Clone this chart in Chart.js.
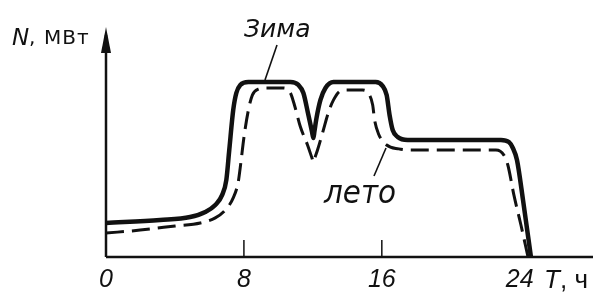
<!DOCTYPE html>
<html>
<head>
<meta charset="utf-8">
<script src="https://cdn.jsdelivr.net/npm/chart.js@4/dist/chart.umd.min.js"></script>
<style>
  html, body { margin: 0; padding: 0; background: #fff; }
  #c { display: block; }
</style>
</head>
<body>
<canvas id="c" width="599" height="294"></canvas>
<script>
// ---- data (time in hours, power in relative units) ----
const winterT = [0, 3.14, 4.88, 5.76, 6.34, 6.74, 6.98, 7.15, 7.38, 7.56, 7.79, 8.26, 10.70, 11.16, 11.45, 11.74, 11.95, 12.03, 12.09, 12.21, 12.44, 12.73, 13.20, 15.64, 16.05, 16.28, 16.45, 16.63, 16.92, 17.50, 22.91, 23.37, 23.60, 23.84, 24.19, 24.65];
const winterN = [14.8, 16.1, 17.4, 19.6, 22.6, 27.0, 33.5, 46.5, 63.9, 71.3, 74.8, 76.1, 76.1, 74.8, 71.3, 61.7, 54.5, 51.7, 54.6, 60.4, 68.3, 73.5, 76.1, 76.1, 74.3, 70.4, 61.7, 55.2, 52.2, 50.9, 50.9, 50.0, 47.4, 42.2, 24.8, 0];

const summerT = [0, 1.98, 4.01, 5.47, 6.34, 6.92, 7.38, 7.67, 7.79, 8.02, 8.26, 8.49, 8.84, 9.30, 10.29, 10.70, 10.93, 11.28, 11.69, 11.95, 12.03, 12.10, 12.27, 12.56, 12.91, 13.20, 13.60, 14.07, 14.88, 15.29, 15.47, 15.58, 15.81, 16.28, 16.98, 17.67, 22.62, 23.08, 23.31, 23.66, 24.07, 24.48];
const summerN = [10.4, 11.7, 13.5, 14.8, 17.0, 20.4, 25.7, 32.6, 39.1, 53.0, 63.9, 70.4, 73.0, 73.5, 73.5, 71.3, 66.1, 56.5, 48.7, 43.0, 41.3, 42.8, 46.5, 53.9, 63.0, 68.3, 72.2, 72.6, 72.6, 70.4, 66.1, 59.6, 53.5, 48.7, 47.0, 46.5, 46.5, 44.3, 40.0, 27.0, 13.9, 0];

const xTicks = [0, 8, 16, 24];
const tickMarks = [8, 16];
const seriesNames = ['Зима', 'лето'];
const yAxisTitle = ['N', ',', 'МВт'];
const xAxisTitle = ['T', ', ч'];

const toPts = (t, n) => t.map((v, i) => ({ x: v, y: n[i] }));

const INK = '#111';

const decor = {
  id: 'decor',
  afterDatasetsDraw(chart) {
    const ctx = chart.ctx;
    const a = chart.chartArea;
    const xs = chart.scales.x;
    ctx.save();
    ctx.strokeStyle = INK;
    ctx.fillStyle = INK;
    ctx.lineCap = 'butt';

    // axes
    ctx.lineWidth = 2.5;
    ctx.beginPath();
    ctx.moveTo(a.left, a.bottom);
    ctx.lineTo(a.right, a.bottom);
    ctx.stroke();
    ctx.beginPath();
    ctx.moveTo(a.left, a.bottom);
    ctx.lineTo(a.left, a.top + 8);
    ctx.stroke();
    // arrow head on y axis
    ctx.beginPath();
    ctx.moveTo(a.left, a.top);
    ctx.lineTo(a.left - 5, a.top + 26);
    ctx.lineTo(a.left + 5, a.top + 26);
    ctx.closePath();
    ctx.fill();

    // tick marks rising from the x axis
    ctx.lineWidth = 1.5;
    tickMarks.forEach(v => {
      const px = xs.getPixelForValue(v);
      ctx.beginPath();
      ctx.moveTo(px, a.bottom);
      ctx.lineTo(px, a.bottom - 17);
      ctx.stroke();
    });

    // y axis title
    ctx.textBaseline = 'alphabetic';
    ctx.textAlign = 'left';
    ctx.font = 'italic 23px "DejaVu Sans"';
    ctx.fillText(yAxisTitle[0], 12, 45);
    ctx.font = '20px "DejaVu Sans"';
    ctx.fillText(yAxisTitle[1], 29, 44);
    ctx.letterSpacing = '1px';
    ctx.fillText(yAxisTitle[2], 44, 44);
    ctx.letterSpacing = '0px';

    // x axis title
    ctx.font = 'italic 26px "Liberation Sans"';
    ctx.fillText(xAxisTitle[0], 544, 288);
    ctx.font = '26px "Liberation Sans"';
    ctx.fillText(xAxisTitle[1], 560, 288);

    // series labels
    ctx.font = 'italic 25px "DejaVu Sans"';
    ctx.fillText(seriesNames[0], 244, 37);
    ctx.font = 'italic 32px "DejaVu Sans"';
    const w = ctx.measureText(seriesNames[1]).width;
    ctx.save();
    ctx.translate(324, 203);
    ctx.scale(72 / w, 1);
    ctx.fillText(seriesNames[1], 0, 0);
    ctx.restore();

    // leader lines
    ctx.lineWidth = 1.6;
    ctx.beginPath();
    ctx.moveTo(277, 45);
    ctx.lineTo(265, 80);
    ctx.stroke();
    ctx.beginPath();
    ctx.moveTo(374, 176);
    ctx.lineTo(386, 148);
    ctx.stroke();

    ctx.restore();
  }
};

new Chart(document.getElementById('c'), {
  type: 'line',
  data: {
    datasets: [
      {
        label: seriesNames[0],
        data: toPts(winterT, winterN),
        borderColor: INK,
        borderWidth: 4.5,
        pointRadius: 0,
        fill: false,
        cubicInterpolationMode: 'monotone',
        borderCapStyle: 'round',
        borderJoinStyle: 'round'
      },
      {
        label: seriesNames[1],
        data: toPts(summerT, summerN),
        borderColor: INK,
        borderWidth: 3,
        borderDash: [18, 8],
        pointRadius: 0,
        fill: false,
        cubicInterpolationMode: 'monotone',
        borderJoinStyle: 'round'
      }
    ]
  },
  options: {
    responsive: false,
    animation: false,
    devicePixelRatio: 1,
    layout: { padding: { left: 106, top: 27, right: 6, bottom: 0 } },
    plugins: { legend: { display: false }, tooltip: { enabled: false } },
    scales: {
      x: {
        type: 'linear',
        min: 0,
        max: 28.25,
        grid: { display: false, drawTicks: false },
        border: { display: false },
        afterBuildTicks: (s) => { s.ticks = xTicks.map(v => ({ value: v })); },
        afterFit: (s) => { s.height = 37; },
        ticks: {
          autoSkip: false,
          maxRotation: 0,
          padding: 8,
          color: INK,
          font: { family: '"Liberation Sans"', size: 25, style: 'italic' },
          callback: (v) => String(v)
        }
      },
      y: {
        type: 'linear',
        min: 0,
        max: 100,
        display: false
      }
    }
  },
  plugins: [decor]
});
</script>
</body>
</html>
